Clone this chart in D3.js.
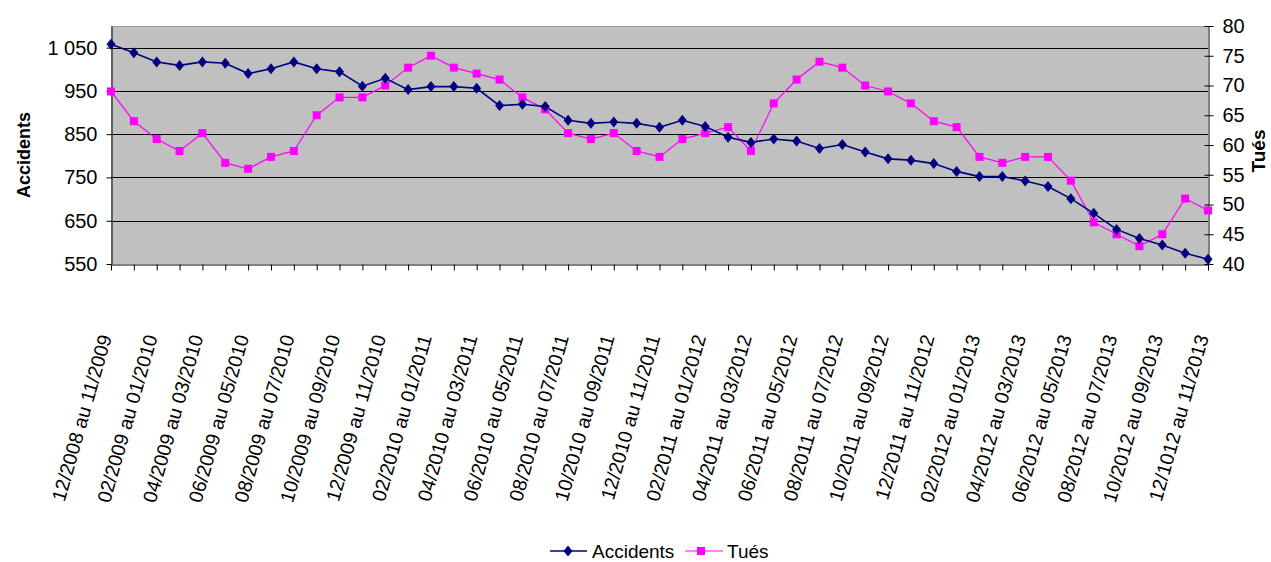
<!DOCTYPE html>
<html>
<head>
<meta charset="utf-8">
<script src="https://cdn.jsdelivr.net/npm/d3@7"></script>
<style>
  html, body { margin: 0; padding: 0; background: #fff; }
  svg { display: block; }
  text { font-family: "Liberation Sans", Arial, sans-serif; fill: #000; }
</style>
</head>
<body>
<svg id="chart" width="1271" height="562"></svg>
<script>
const categories = [
  "12/2008 au 11/2009","01/2009 au 12/2009","02/2009 au 01/2010","03/2009 au 02/2010",
  "04/2009 au 03/2010","05/2009 au 04/2010","06/2009 au 05/2010","07/2009 au 06/2010",
  "08/2009 au 07/2010","09/2009 au 08/2010","10/2009 au 09/2010","11/2009 au 10/2010",
  "12/2009 au 11/2010","01/2010 au 12/2010","02/2010 au 01/2011","03/2010 au 02/2011",
  "04/2010 au 03/2011","05/2010 au 04/2011","06/2010 au 05/2011","07/2010 au 06/2011",
  "08/2010 au 07/2011","09/2010 au 08/2011","10/2010 au 09/2011","11/2010 au 10/2011",
  "12/2010 au 11/2011","01/2011 au 12/2011","02/2011 au 01/2012","03/2011 au 02/2012",
  "04/2011 au 03/2012","05/2011 au 04/2012","06/2011 au 05/2012","07/2011 au 06/2012",
  "08/2011 au 07/2012","09/2011 au 08/2012","10/2011 au 09/2012","11/2011 au 10/2012",
  "12/2011 au 11/2012","01/2012 au 12/2012","02/2012 au 01/2013","03/2012 au 02/2013",
  "04/2012 au 03/2013","05/2012 au 04/2013","06/2012 au 05/2013","07/2012 au 06/2013",
  "08/2012 au 07/2013","09/2012 au 08/2013","10/2012 au 09/2013","11/2012 au 10/2013",
  "12/1012 au 11/2013"
];
const accidents = [
  1058,1038,1017,1009,1017,1014,990,1001,1017,1001,
  994,961,979,953,960,960,956,916,919,914,
  882,875,878,875,866,882,868,843,831,839,
  834,817,826,809,793,790,782,764,752,752,
  742,729,701,667,630,609,594,575,561
];
const tues = [
  69,64,61,59,62,57,56,58,59,65,
  68,68,70,73,75,73,72,71,68,66,
  62,61,62,59,58,61,62,63,59,67,
  71,74,73,70,69,67,64,63,58,57,
  58,58,54,47,45,43,45,51,49
];
const leftTicks = [550, 650, 750, 850, 950, 1050];
const leftTickLabels = ["550", "650", "750", "850", "950", "1 050"];
const rightTicks = [40, 45, 50, 55, 60, 65, 70, 75, 80];
const seriesNames = ["Accidents", "Tués"];

const svg = d3.select("#chart");
const L = 111, R = 1208, T = 26, B = 264;

const x = d3.scalePoint().domain(categories).range([L, R]);
const yL = d3.scaleLinear().domain([550, 1100]).range([B, T]);
const yR = d3.scaleLinear().domain([40, 80]).range([B, T]);

// plot background
svg.append("rect").attr("x", L).attr("y", T).attr("width", R - L).attr("height", B - T)
  .attr("fill", "#C0C0C0");
svg.append("line").attr("x1", L).attr("x2", R).attr("y1", T + 0.5).attr("y2", T + 0.5)
  .attr("stroke", "#9a9a9a").attr("stroke-width", 1);

// gridlines
svg.append("g").selectAll("line").data(leftTicks.filter(d => d !== 550)).join("line")
  .attr("x1", L).attr("x2", R)
  .attr("y1", d => Math.round(yL(d)) + 0.5).attr("y2", d => Math.round(yL(d)) + 0.5)
  .attr("stroke", "#000").attr("stroke-width", 1.2);

// left axis
const gL = svg.append("g").attr("transform", `translate(${L + 0.5},0)`)
  .call(d3.axisLeft(yL).tickValues(leftTicks)
    .tickFormat((d, i) => leftTickLabels[i]).tickSize(5).tickSizeOuter(0).tickPadding(9));
gL.selectAll("text").style("font-size", "20px");
gL.selectAll("path, line").attr("stroke", "#000");

// right axis
const gR = svg.append("g").attr("transform", `translate(${R + 0.5},0)`)
  .call(d3.axisRight(yR).tickValues(rightTicks).tickSize(5).tickSizeOuter(0).tickPadding(9));
gR.selectAll("text").style("font-size", "20px");
gR.selectAll("line").attr("x1", -4);
gR.selectAll("path, line").attr("stroke", "#000");

// bottom axis
const gB = svg.append("g").attr("transform", `translate(0,${B + 0.5})`)
  .call(d3.axisBottom(x).tickFormat("").tickSize(6).tickSizeOuter(0));
gB.selectAll("path, line").attr("stroke", "#000");

// x labels every other category
svg.append("g").selectAll("text")
  .data(categories.filter((d, i) => i % 2 === 0)).join("text")
  .attr("transform", d => `translate(${x(d) + 1},337) rotate(-74)`)
  .attr("text-anchor", "end")
  .style("font-size", "19.5px")
  .text(d => d);

// axis titles
svg.append("text").attr("transform", "translate(30,155) rotate(-90)")
  .attr("text-anchor", "middle").style("font-size", "18px").style("font-weight", "bold")
  .text("Accidents");
svg.append("text").attr("transform", "translate(1265,151) rotate(-90)")
  .attr("text-anchor", "middle").style("font-size", "19px").style("font-weight", "bold")
  .text("Tués");

// lines
const lineA = d3.line().x((d, i) => x(categories[i])).y(d => yL(d));
const lineT = d3.line().x((d, i) => x(categories[i])).y(d => yR(d));

svg.append("path").datum(tues).attr("d", lineT)
  .attr("fill", "none").attr("stroke", "#FF00FF").attr("stroke-width", 1.2);
svg.append("path").datum(accidents).attr("d", lineA)
  .attr("fill", "none").attr("stroke", "#000080").attr("stroke-width", 1.6);

const diamond = "M0,-5.5L4.5,0L0,5.5L-4.5,0Z";

svg.append("g").selectAll("rect").data(tues).join("rect")
  .attr("x", (d, i) => x(categories[i]) - 4).attr("y", d => yR(d) - 4)
  .attr("width", 8).attr("height", 8).attr("fill", "#FF00FF");

svg.append("g").selectAll("path").data(accidents).join("path")
  .attr("transform", (d, i) => `translate(${x(categories[i])},${yL(d)})`)
  .attr("d", diamond).attr("fill", "#000080");

// legend
const leg = svg.append("g");
leg.append("line").attr("x1", 550).attr("x2", 587).attr("y1", 551).attr("y2", 551)
  .attr("stroke", "#000080").attr("stroke-width", 1.6);
leg.append("path").attr("transform", "translate(568,551)").attr("d", diamond).attr("fill", "#000080");
leg.append("text").attr("x", 592).attr("y", 558).style("font-size", "19px").text(seriesNames[0]);
leg.append("line").attr("x1", 685).attr("x2", 723).attr("y1", 551).attr("y2", 551)
  .attr("stroke", "#FF00FF").attr("stroke-width", 1.2);
leg.append("rect").attr("x", 697).attr("y", 547).attr("width", 8).attr("height", 8).attr("fill", "#FF00FF");
leg.append("text").attr("x", 727).attr("y", 558).style("font-size", "19px").text(seriesNames[1]);
</script>
</body>
</html>
